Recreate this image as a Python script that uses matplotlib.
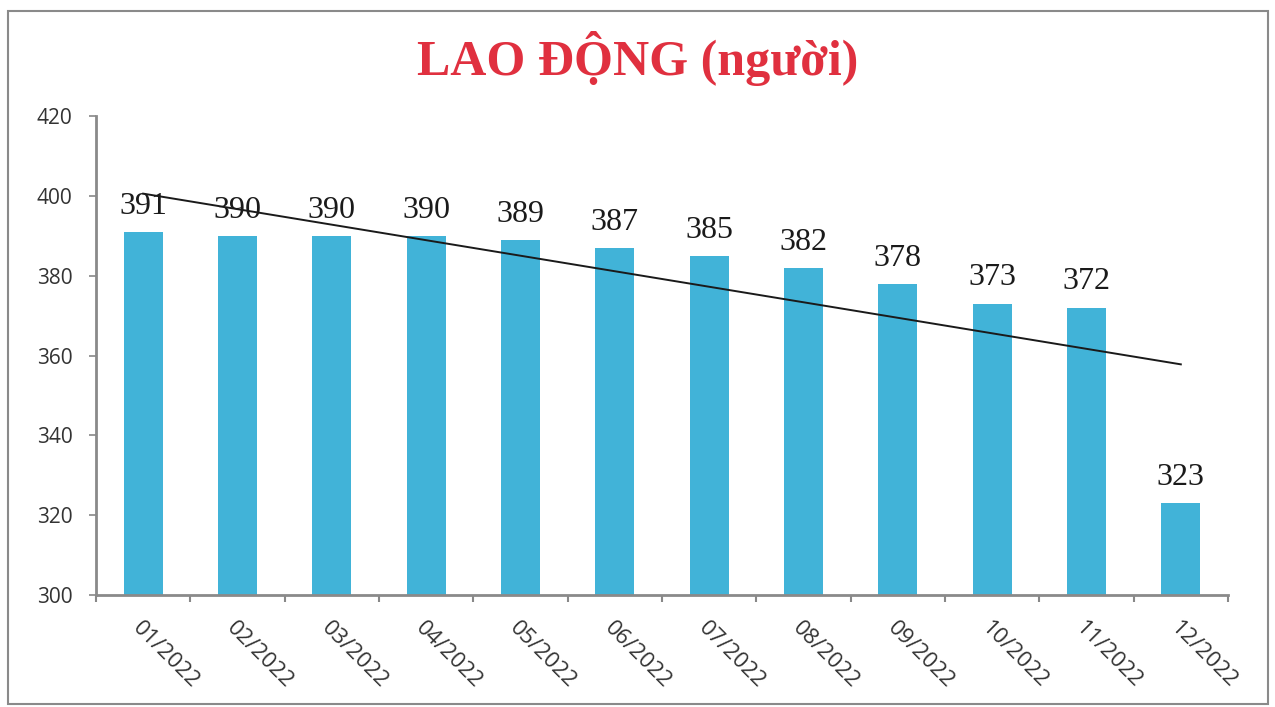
import matplotlib
matplotlib.use("Agg")
import matplotlib.pyplot as plt
import numpy as np
from matplotlib.patches import Rectangle

months = ["01/2022", "02/2022", "03/2022", "04/2022", "05/2022", "06/2022",
          "07/2022", "08/2022", "09/2022", "10/2022", "11/2022", "12/2022"]
workers = [391, 390, 390, 390, 389, 387, 385, 382, 378, 373, 372, 323]
yticks = [300, 320, 340, 360, 380, 400, 420]
title = "LAO ĐỘNG (người)"

fig = plt.figure(figsize=(12.75, 7.07), dpi=100)
fig.patches.append(Rectangle((8/1275, 3/707), 1260/1275, 693/707, transform=fig.transFigure,
                             fill=False, edgecolor="#8a8a8a", linewidth=1.5))
ax = fig.add_axes([96/1275, 1-595/707, (1228-96)/1275, (595-116)/707])

x = np.arange(len(months))
ax.bar(x, workers, width=0.41, color="#41B3D8", zorder=2)

# linear trend line (Excel-style)
coef = np.polyfit(x, workers, 1)
ax.plot([x[0], x[-1]], np.polyval(coef, [x[0], x[-1]]), color="#1a1a1a", linewidth=1.4, zorder=3)

for xi, v in zip(x, workers):
    ax.annotate(str(v), (xi, v), xytext=(0, 8), textcoords="offset points",
                ha="center", va="bottom", fontsize=23, family="Liberation Serif",
                color="#1a1a1a", zorder=4)

ax.set_ylim(300, 420)
ax.set_xlim(-0.5, len(months) - 0.5)
ax.set_yticks(yticks)
ax.set_yticklabels([str(t) for t in yticks], fontsize=15, color="#333333", family="Open Sans")
ax.set_xticks(np.arange(-0.5, len(months), 1.0))
ax.set_xticklabels([])
ax.set_xticks(x, minor=True)
ax.set_xticklabels(months, minor=True, rotation=-45, ha="left", va="top",
                   rotation_mode="anchor", fontsize=16, color="#333333", family="Open Sans")
ax.tick_params(axis="x", which="minor", length=0, pad=16)
ax.tick_params(axis="x", which="major", length=5, color="#888888", width=1.5)
ax.tick_params(axis="y", length=5, color="#888888", width=1.2, pad=12)

for s in ["top", "right"]:
    ax.spines[s].set_visible(False)
for s in ["left", "bottom"]:
    ax.spines[s].set_color("#8a8a8a")
    ax.spines[s].set_linewidth(2)

fig.text(0.5, 1-58/707, title, ha="center", va="center", fontsize=36, fontweight="bold",
         family="Liberation Serif", color="#E0303F")

fig.savefig("out.png", dpi=100)
